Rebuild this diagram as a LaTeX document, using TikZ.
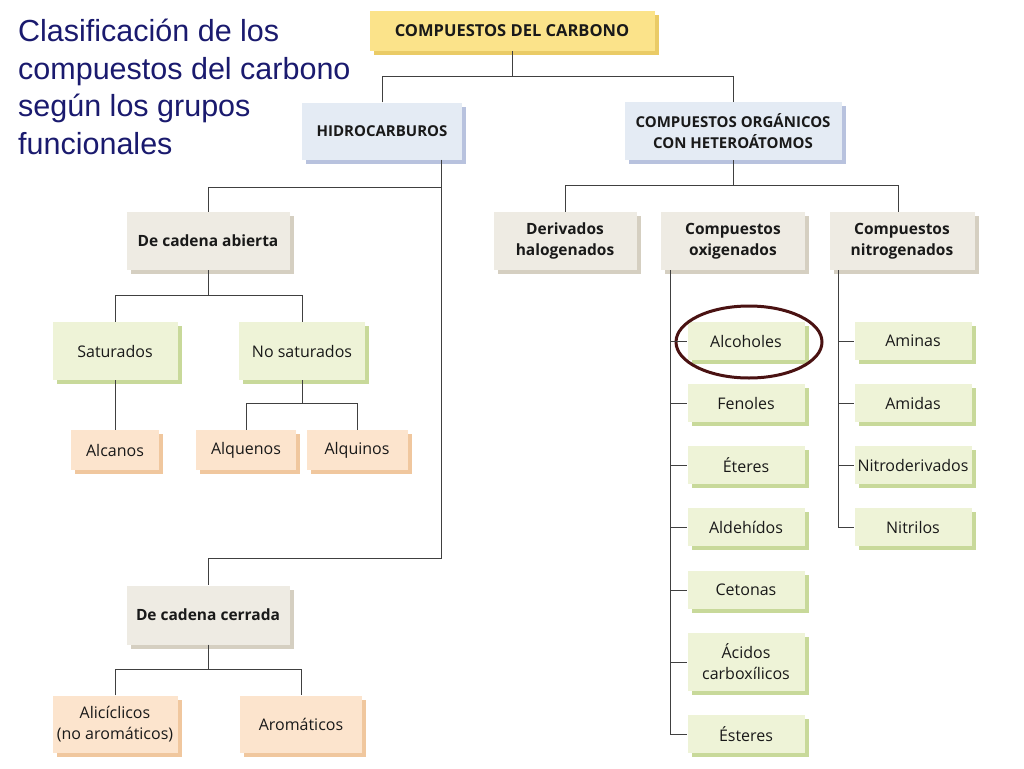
\documentclass[tikz,border=0pt]{standalone}
\usepackage{fontspec}
\setmainfont{Open Sans}
\newfontfamily\titlefont{Liberation Sans}
\usetikzlibrary{shadows,shapes.geometric}
\definecolor{yel}{HTML}{FBE38A}\definecolor{yelS}{HTML}{EACB66}
\definecolor{blu}{HTML}{E4EBF4}\definecolor{bluS}{HTML}{B8C2DE}
\definecolor{bei}{HTML}{EEEBE3}\definecolor{beiS}{HTML}{D5CFC1}
\definecolor{grn}{HTML}{EEF3D7}\definecolor{grnS}{HTML}{C8D99A}
\definecolor{org}{HTML}{FCE4CD}\definecolor{orgS}{HTML}{F0C79E}
\definecolor{navy}{HTML}{1A1A6E}\definecolor{ring}{HTML}{4A1212}
\tikzset{
 bx/.style args={#1/#2/#3/#4}{draw=none,fill=#3,minimum width=#1,minimum height=#2,align=center,
   inner sep=1pt,font=\fontsize{16}{20}\selectfont,text=black!90,
   drop shadow={shadow xshift=4pt,shadow yshift=-4pt,fill=#4,opacity=1}},
 ln/.style={draw=black!75,line width=0.9pt}
}
\begin{document}
\begin{tikzpicture}[x=1pt,y=-1pt]
\fill[white] (0,0) rectangle (1024,768);
\useasboundingbox (0,0) rectangle (1024,768);
\node[anchor=north west,align=left,text=navy,font=\titlefont\fontsize{30.5}{37.5}\selectfont,inner sep=0] (title) at (18,19)
 {Clasificación de los\\compuestos del carbono\\según los grupos\\funcionales};
\node[bx=285pt/40pt/yel/yelS,font=\bfseries\fontsize{16.5}{19}\selectfont] (cdc) at (512,31) {COMPUESTOS DEL CARBONO};
\node[bx=160pt/57pt/blu/bluS,font=\bfseries\fontsize{15}{19}\selectfont] (hid) at (382,131) {HIDROCARBUROS};
\node[bx=217pt/58pt/blu/bluS,font=\bfseries\fontsize{15}{21}\selectfont] (org) at (733,131) {COMPUESTOS ORGÁNICOS\\CON HETEROÁTOMOS};
\node[bx=163pt/58pt/bei/beiS,font=\bfseries\fontsize{15.5}{19}\selectfont] (abi) at (208,241) {De cadena abierta};
\node[bx=143pt/58pt/bei/beiS,font=\bfseries\fontsize{15.5}{21}\selectfont] (hal) at (565,241) {Derivados\\halogenados};
\node[bx=144pt/58pt/bei/beiS,font=\bfseries\fontsize{15.5}{21}\selectfont] (oxi) at (733,241) {Compuestos\\oxigenados};
\node[bx=145pt/58pt/bei/beiS,font=\bfseries\fontsize{15.5}{21}\selectfont] (nit) at (902,241) {Compuestos\\nitrogenados};
\node[bx=125pt/58pt/grn/grnS] (sat) at (115,351) {Saturados};
\node[bx=126pt/58pt/grn/grnS] (nos) at (302,351) {No saturados};
\node[bx=88pt/40pt/org/orgS] (alc) at (115,450) {Alcanos};
\node[bx=100pt/40pt/org/orgS] (alq) at (246,450) {Alquenos};
\node[bx=101pt/40pt/org/orgS] (alk) at (357,450) {Alquinos};
\node[bx=163pt/59pt/bei/beiS,font=\bfseries\fontsize{15.5}{19}\selectfont] (cer) at (208,615) {De cadena cerrada};
\node[bx=125pt/57pt/org/orgS,font=\fontsize{16}{21}\selectfont] (ali) at (115,724) {Alicíclicos\\(no aromáticos)};
\node[bx=122pt/57pt/org/orgS] (aro) at (301,724) {Aromáticos};
\foreach \n/\y/\t in {o1/341/Alcoholes,o2/403/Fenoles,o3/465/Éteres,o4/527/Aldehídos,o5/590/Cetonas,o7/734/Ésteres}
  \node[bx=117pt/38pt/grn/grnS] (\n) at (746,\y) {\t};
\node[bx=117pt/58pt/grn/grnS,font=\fontsize{16}{21}\selectfont] (o6) at (746,662) {Ácidos\\carboxílicos};
\foreach \n/\y/\t in {n1/341/Aminas,n2/403/Amidas,n3/465/Nitroderivados,n4/527/Nitrilos}
  \node[bx=117pt/38pt/grn/grnS] (\n) at (913,\y) {\t};
\node[draw=ring,line width=3pt,ellipse,minimum width=146pt,minimum height=72pt] (ring) at (749,342) {};
% connectors
\draw[ln] (cdc.south) -- ++(0,25) coordinate (c1);
\draw[ln] (hid.north) |- (c1) -| (org.north);
\coordinate (h1) at (441,187); \coordinate (h2) at (441,558);
\draw[ln] (hid.south -| h1) -- (h2) -| (cer.north);
\draw[ln] (h1) -| (abi.north);
\draw[ln] (abi.south) -- ++(0,25) coordinate (a1);
\draw[ln] (sat.north) |- (a1) -| (nos.north);
\draw[ln] (sat.south) -- (alc.north);
\draw[ln] (nos.south) -- ++(0,23) coordinate (b1);
\draw[ln] (alq.north) |- (b1) -| (alk.north);
\draw[ln] (cer.south) -- ++(0,25) coordinate (d1);
\draw[ln] (ali.north) |- (d1) -| (aro.north);
\draw[ln] (org.south) -- ++(0,25) coordinate (e1);
\draw[ln] (hal.north) |- (e1) -| (898,212);
\coordinate (ox) at (670,270); \coordinate (nx) at (838,270);
\draw[ln] (ox) -- (ox |- o7);
\foreach \n in {o1,o2,o3,o4,o5,o6,o7} \draw[ln] (ox |- \n) -- (\n.west);
\draw[ln] (nx) -- (nx |- n4);
\foreach \n in {n1,n2,n3,n4} \draw[ln] (nx |- \n) -- (\n.west);
\end{tikzpicture}
\end{document}
